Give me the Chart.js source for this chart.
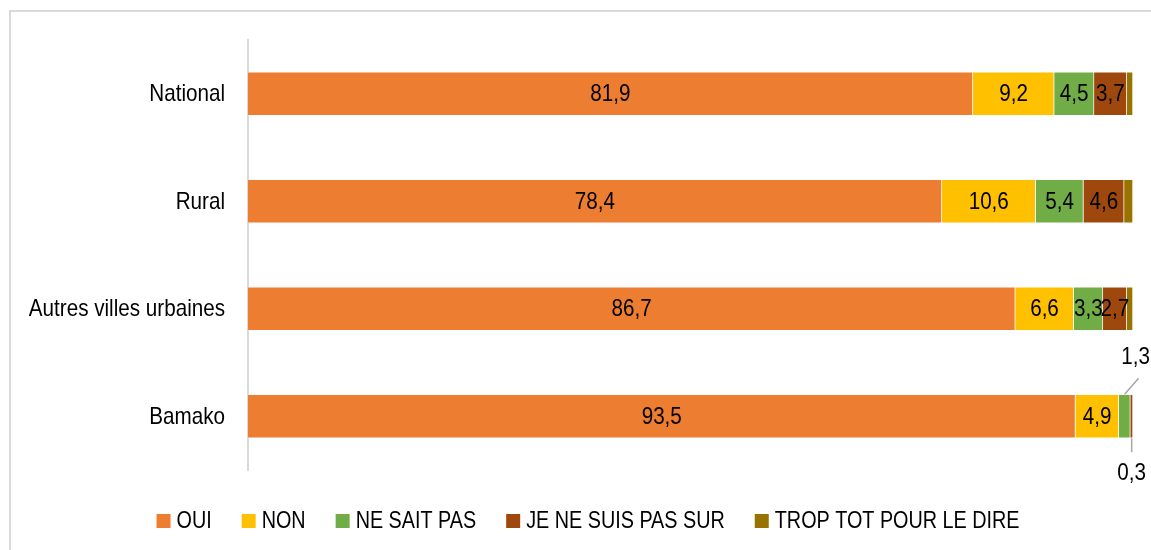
<!DOCTYPE html>
<html>
<head>
<meta charset="utf-8">
<script src="https://cdn.jsdelivr.net/npm/chart.js@4.4.1/dist/chart.umd.min.js"></script>
<style>
  html, body { margin: 0; padding: 0; background: #fff; }
  #wrap { width: 1151px; height: 550px; }
</style>
</head>
<body>
<div id="wrap"><canvas id="chart" width="1151" height="550"></canvas></div>
<script>
// catégories et séries
const categories = ['National', 'Rural', 'Autres villes urbaines', 'Bamako'];
const oui = [81.9, 78.4, 86.7, 93.5];
const non = [9.2, 10.6, 6.6, 4.9];
const neSaitPas = [4.5, 5.4, 3.3, 1.3];
const pasSur = [3.7, 4.6, 2.7, 0.3];
const tropTot = [0.7, 1.0, 0.7, 0.0];
const seriesNames = ['OUI', 'NON', 'NE SAIT PAS', 'JE NE SUIS PAS SUR', 'TROP TOT POUR LE DIRE'];
const seriesColors = ['#ED7D31', '#FFC000', '#70AD47', '#9E480E', '#997300'];

const FONT = "'Liberation Sans', Arial, sans-serif";
const SQUEEZE = 0.86; // police étroite simulée
const fmt = v => v.toFixed(1).replace('.', ',');

// texte condensé horizontalement
function narrowText(ctx, text, x, y, size, align) {
  ctx.save();
  ctx.font = size + 'px ' + FONT;
  ctx.textBaseline = 'middle';
  const w = ctx.measureText(text).width * SQUEEZE;
  let left = x;
  if (align === 'center') left = x - w / 2;
  else if (align === 'right') left = x - w;
  ctx.translate(left, y);
  ctx.scale(SQUEEZE, 1);
  ctx.textAlign = 'left';
  ctx.fillText(text, 0, 0);
  ctx.restore();
  return w;
}
function narrowWidth(ctx, text, size) {
  ctx.save();
  ctx.font = size + 'px ' + FONT;
  const w = ctx.measureText(text).width * SQUEEZE;
  ctx.restore();
  return w;
}

// cadre gris autour du graphique
const framePlugin = {
  id: 'frame',
  beforeDraw(chart) {
    const ctx = chart.ctx;
    ctx.save();
    ctx.strokeStyle = '#d9d9d9';
    ctx.lineWidth = 2;
    ctx.beginPath();
    ctx.moveTo(10, chart.height);
    ctx.lineTo(10, 11);
    ctx.lineTo(chart.width, 11);
    ctx.stroke();
    ctx.restore();
  }
};

// libellés de l'axe des catégories
const axisLabelPlugin = {
  id: 'axisLabels',
  afterDraw(chart) {
    const ctx = chart.ctx;
    const y = chart.scales.y;
    ctx.fillStyle = '#000';
    categories.forEach((c, i) => {
      narrowText(ctx, c, chart.chartArea.left - 23, y.getPixelForValue(i) + 1, 24, 'right');
    });
  }
};

// étiquettes de valeurs
const labelPlugin = {
  id: 'valueLabels',
  afterDatasetsDraw(chart) {
    const ctx = chart.ctx;
    ctx.save();
    ctx.fillStyle = '#000';
    chart.data.datasets.forEach((ds, di) => {
      if (di > 3) return;
      const meta = chart.getDatasetMeta(di);
      meta.data.forEach((bar, i) => {
        const v = ds.data[i];
        if (!v) return;
        const cx = (bar.x + bar.base) / 2;
        if (v >= 2) {
          narrowText(ctx, fmt(v), cx, bar.y + 1, 24, 'center');
        } else {
          ctx.strokeStyle = '#a6a6a6';
          ctx.lineWidth = 1.5;
          const half = bar.height / 2;
          ctx.beginPath();
          if (di === 2) {
            ctx.moveTo(cx, bar.y - half);
            ctx.lineTo(cx + 14, bar.y - half - 16);
            ctx.stroke();
            narrowText(ctx, fmt(v), cx + 11, bar.y - half - 37, 24, 'center');
          } else {
            ctx.moveTo(cx, bar.y + half);
            ctx.lineTo(cx, bar.y + half + 14);
            ctx.stroke();
            narrowText(ctx, fmt(v), cx, bar.y + half + 35, 24, 'center');
          }
        }
      });
    });
    ctx.restore();
  }
};

// légende dessinée à la main
const legendPlugin = {
  id: 'customLegend',
  afterDraw(chart) {
    const ctx = chart.ctx;
    const box = 14, gapText = 6, gapItem = 30, size = 23;
    const widths = seriesNames.map(n => box + gapText + narrowWidth(ctx, n, size));
    const total = widths.reduce((a, b) => a + b, 0) + gapItem * (widths.length - 1);
    let x = 588 - total / 2;
    const y = 521;
    seriesNames.forEach((n, i) => {
      ctx.fillStyle = seriesColors[i];
      ctx.fillRect(x, y - box / 2, box, box);
      ctx.fillStyle = '#000';
      narrowText(ctx, n, x + box + gapText, y + 1, size, 'left');
      x += widths[i] + gapItem;
    });
  }
};

const seriesData = [oui, non, neSaitPas, pasSur, tropTot];

new Chart(document.getElementById('chart').getContext('2d'), {
  type: 'bar',
  data: {
    labels: categories,
    datasets: seriesData.map((d, i) => ({
      label: seriesNames[i],
      data: d,
      backgroundColor: seriesColors[i],
      borderColor: 'rgba(255,255,255,0.5)',
      borderWidth: 1,
      barThickness: 44
    }))
  },
  options: {
    indexAxis: 'y',
    responsive: false,
    animation: false,
    layout: { padding: { left: 0, right: 18, top: 40, bottom: 80 } },
    plugins: {
      legend: { display: false },
      tooltip: { enabled: false }
    },
    scales: {
      x: { stacked: true, min: 0, max: 100, display: false },
      y: {
        stacked: true,
        grid: { display: false, drawTicks: false },
        border: { display: true, color: '#d9d9d9', width: 2 },
        ticks: { display: false },
        afterFit(scale) { scale.width = 248; }
      }
    }
  },
  plugins: [framePlugin, axisLabelPlugin, labelPlugin, legendPlugin]
});
</script>
</body>
</html>
